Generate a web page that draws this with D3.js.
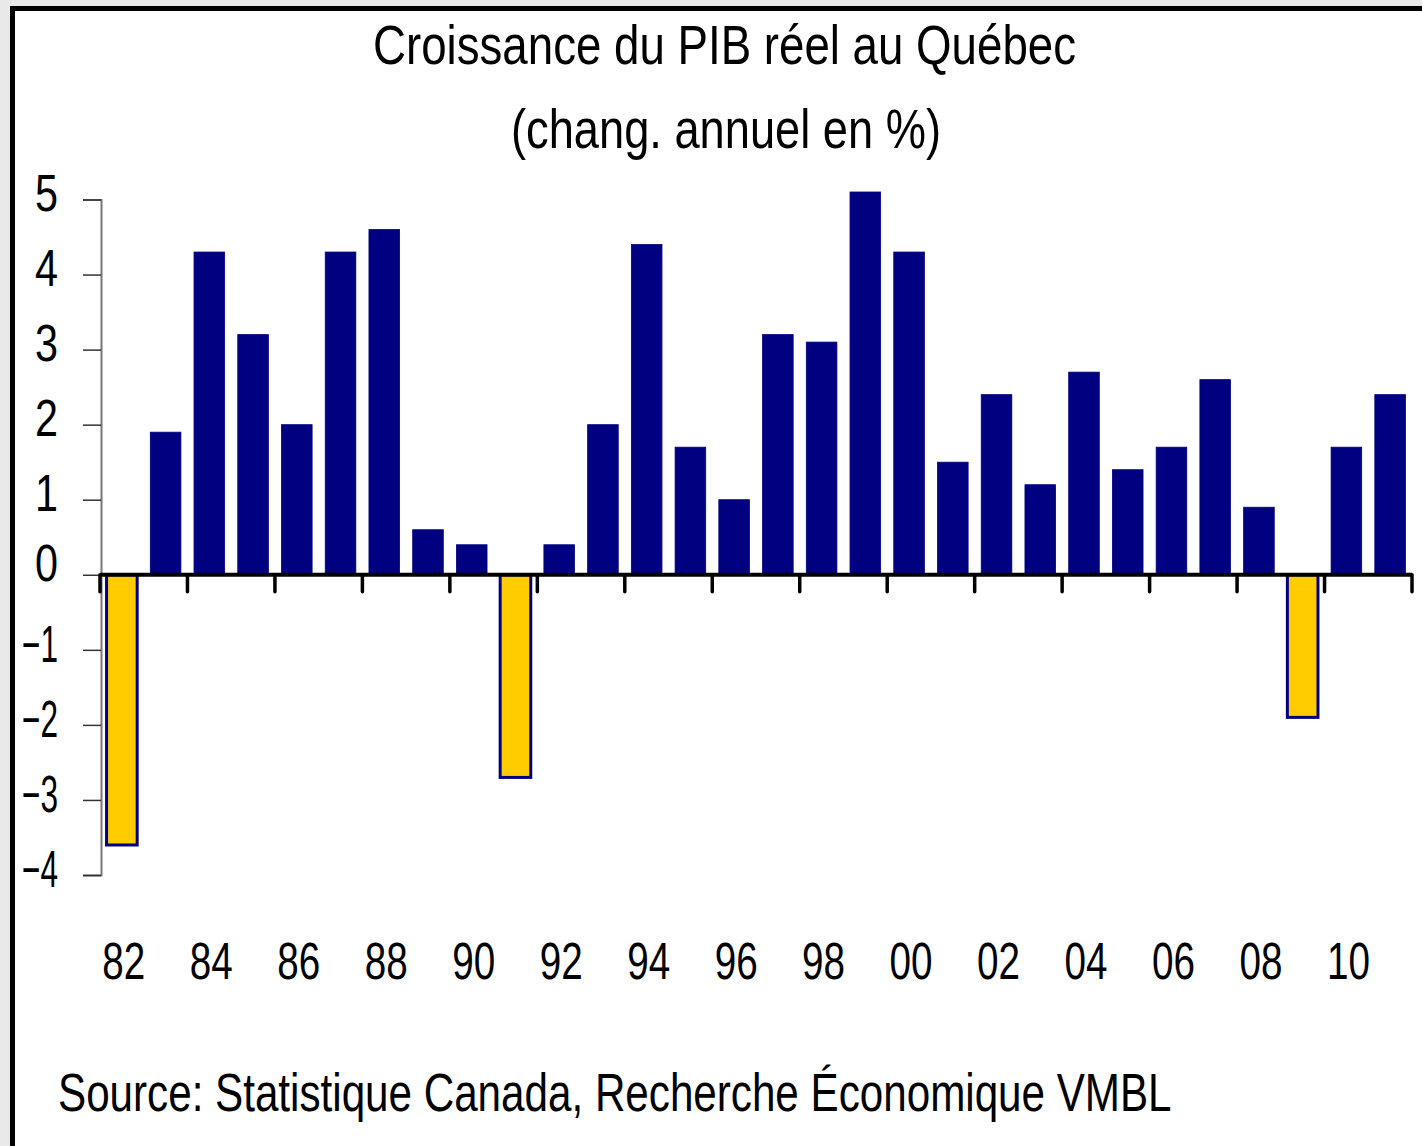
<!DOCTYPE html>
<html>
<head>
<meta charset="utf-8">
<script src="https://cdn.jsdelivr.net/npm/d3@7"></script>
<style>
  html, body { margin: 0; padding: 0; background: #e9e9e9; }
  svg { display: block; }
  text { font-family: "Liberation Sans Narrow", "Arial Narrow", "Liberation Sans", Arial, sans-serif; fill: #000; }
</style>
</head>
<body>
<script>
// Quebec real GDP growth, annual % change
const years = ["82","83","84","85","86","87","88","89","90","91","92","93","94","95","96",
  "97","98","99","00","01","02","03","04","05","06","07","08","09","10","11"];
const growth = [-3.6, 1.9, 4.3, 3.2, 2.0, 4.3, 4.6, 0.6, 0.4, -2.7, 0.4, 2.0, 4.4, 1.7, 1.0,
  3.2, 3.1, 5.1, 4.3, 1.5, 2.4, 1.2, 2.7, 1.4, 1.7, 2.6, 0.9, -1.9, 1.7, 2.4];
const xTickLabels = ["82","84","86","88","90","92","94","96","98","00","02","04","06","08","10"];
const yTicks = [-4, -3, -2, -1, 0, 1, 2, 3, 4, 5];

const width = 1422;
const height = 1146;

const svg = d3.select("body")
  .append("svg")
  .attr("width", width)
  .attr("height", height);

// white panel, heavy frame on the left and top only
svg.append("rect")
  .attr("x", 10)
  .attr("y", 6)
  .attr("width", width - 10)
  .attr("height", height - 6)
  .attr("fill", "#fff");

svg.append("path")
  .attr("d", "M12.5," + height + "V8.5H" + width)
  .attr("fill", "none")
  .attr("stroke", "#000")
  .attr("stroke-width", 5);

const xScale = d3.scaleBand()
  .domain(years)
  .range([100, 1412])
  .paddingInner(0.3)
  .paddingOuter(0.15);

const yScale = d3.scaleLinear()
  .domain([-4, 5])
  .range([875, 199.5]);

// y axis: grey line, ticks to the left
const yAxis = d3.axisLeft(yScale)
  .tickValues(yTicks)
  .tickSize(18)
  .tickPadding(25)
  .tickFormat(d3.format("d"));

const gy = svg.append("g")
  .attr("transform", "translate(101,0)")
  .call(yAxis);
gy.select(".domain").attr("stroke", "#777").attr("stroke-width", 2);
gy.selectAll(".tick line").attr("stroke", "#333").attr("stroke-width", 1.5);
gy.selectAll(".tick text")
  .attr("dy", "0.22em")
  .attr("textLength", d => d < 0 ? 36 : 23)
  .attr("lengthAdjust", "spacingAndGlyphs")
  .style("font-size", "51px")
  .attr("fill", "#000");
gy.selectAll(".tick")
  .filter(d => d === 0)
  .select("text").attr("dy", "0.12em");

// bars
svg.append("g")
  .selectAll("rect")
  .data(growth)
  .join("rect")
  .attr("x", (d, i) => xScale(years[i]))
  .attr("width", xScale.bandwidth())
  .attr("y", d => yScale(Math.max(0, d)))
  .attr("height", d => Math.abs(yScale(d) - yScale(0)))
  .attr("fill", d => d < 0 ? "#ffcc00" : "#000080")
  .attr("stroke", "#000080")
  .attr("stroke-width", d => d < 0 ? 3 : 0.8);

// zero line with category ticks every two years
const step = xScale.step();
const x0 = xScale.range()[0];
const tickPos = d3.range(0, years.length + 1, 2).map(i => x0 + i * step);

svg.append("line")
  .attr("x1", x0)
  .attr("x2", xScale.range()[1])
  .attr("y1", yScale(0))
  .attr("y2", yScale(0))
  .attr("stroke", "#000")
  .attr("stroke-width", 4);

svg.append("g")
  .selectAll("line")
  .data(tickPos)
  .join("line")
  .attr("x1", d => d)
  .attr("x2", d => d)
  .attr("y1", yScale(0))
  .attr("y2", yScale(0) + 17)
  .attr("stroke", "#000")
  .attr("stroke-width", 3.5)
  .attr("stroke-linecap", "round");

// year labels
svg.append("g")
  .selectAll("text")
  .data(xTickLabels)
  .join("text")
  .attr("x", d => xScale(d) + xScale.bandwidth() / 2 + 2)
  .attr("y", 979)
  .attr("text-anchor", "middle")
  .attr("textLength", 43)
  .attr("lengthAdjust", "spacingAndGlyphs")
  .style("font-size", "52px")
  .text(d => d);

// titles
svg.append("text")
  .attr("x", 724.5)
  .attr("y", 64)
  .attr("text-anchor", "middle")
  .attr("textLength", 703)
  .attr("lengthAdjust", "spacingAndGlyphs")
  .style("font-size", "56px")
  .text("Croissance du PIB réel au Québec");

svg.append("text")
  .attr("x", 726)
  .attr("y", 148)
  .attr("text-anchor", "middle")
  .attr("textLength", 430)
  .attr("lengthAdjust", "spacingAndGlyphs")
  .style("font-size", "56px")
  .text("(chang. annuel en %)");

// source line, squeezed horizontally to the narrow face of the original
const source = svg.append("text")
  .style("font-size", "54px")
  .text("Source: Statistique Canada, Recherche Économique VMBL");
const sx = 1114 / source.node().getComputedTextLength();
source.attr("transform", "translate(58,1111) scale(" + sx + ",1)");
</script>
</body>
</html>
